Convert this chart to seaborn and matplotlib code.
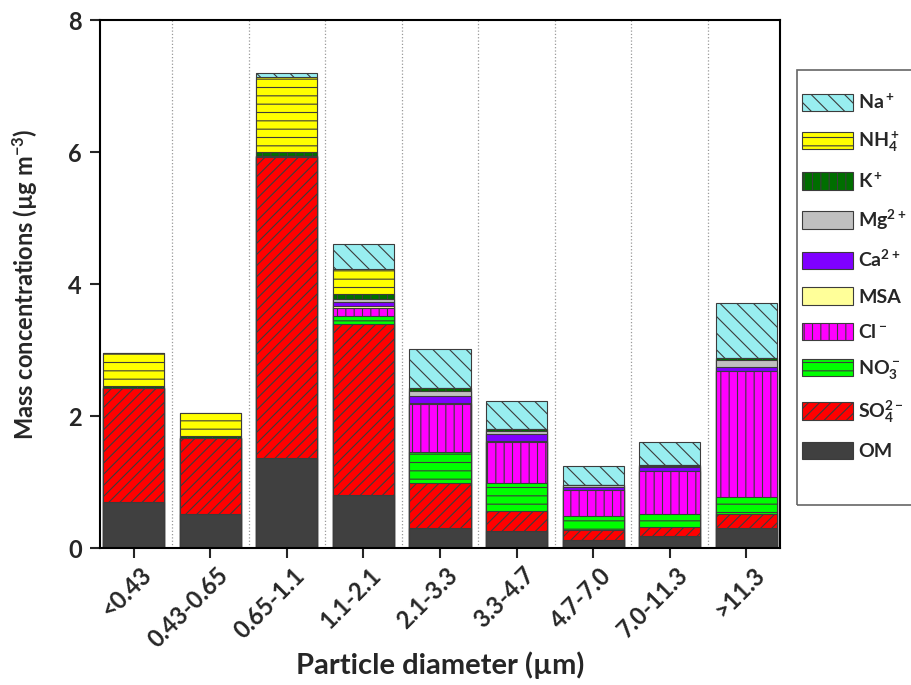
import numpy as np
import pandas as pd
import seaborn as sns
import matplotlib.pyplot as plt
import matplotlib.transforms as mtransforms
from matplotlib.patches import Patch, Rectangle

# particle size bins
sizes = ['<0.43', '0.43-0.65', '0.65-1.1', '1.1-2.1', '2.1-3.3',
         '3.3-4.7', '4.7-7.0', '7.0-11.3', '>11.3']

# mass concentrations (ug m-3), stacked from bottom to top
om = [0.70, 0.51, 1.37, 0.80, 0.31, 0.26, 0.12, 0.18, 0.31]
so4 = [1.72, 1.15, 4.55, 2.59, 0.67, 0.30, 0.15, 0.14, 0.21]
no3 = [0.01, 0.00, 0.02, 0.13, 0.48, 0.43, 0.21, 0.20, 0.26]
cl = [0.00, 0.00, 0.00, 0.12, 0.72, 0.62, 0.40, 0.64, 1.90]
msa = [0.00, 0.00, 0.00, 0.02, 0.02, 0.01, 0.00, 0.00, 0.00]
ca = [0.00, 0.00, 0.00, 0.06, 0.11, 0.10, 0.05, 0.06, 0.06]
mg = [0.00, 0.00, 0.00, 0.06, 0.07, 0.06, 0.02, 0.03, 0.11]
k = [0.03, 0.03, 0.06, 0.07, 0.04, 0.02, 0.01, 0.01, 0.03]
nh4 = [0.49, 0.35, 1.13, 0.37, 0.00, 0.00, 0.00, 0.00, 0.00]
na = [0.00, 0.00, 0.06, 0.39, 0.59, 0.43, 0.28, 0.34, 0.83]

species = ['OM', 'SO4', 'NO3', 'Cl', 'MSA', 'Ca', 'Mg', 'K', 'NH4', 'Na']
values = [om, so4, no3, cl, msa, ca, mg, k, nh4, na]
labels = ['OM', r'SO$_4^{2-}$', r'NO$_3^-$', r'Cl$^-$', 'MSA', r'Ca$^{2+}$',
          r'Mg$^{2+}$', r'K$^+$', r'NH$_4^+$', r'Na$^+$']
colors = ['#404040', '#ff0000', '#00ff00', '#ff00ff', '#ffff99', '#7f00ff',
          '#c0c0c0', '#006e00', '#ffff00', '#98eef0']
hatches = ['', '///', '--', '||', '', '', '', '||', '--', '\\\\']

sns.set_style('ticks')
plt.rcParams['font.family'] = ['Lato', 'DejaVu Sans']
plt.rcParams['font.weight'] = 'bold'
plt.rcParams['mathtext.fontset'] = 'custom'
plt.rcParams['mathtext.rm'] = 'Lato:bold'
plt.rcParams['mathtext.it'] = 'Lato:bold'
plt.rcParams['mathtext.bf'] = 'Lato:bold'
plt.rcParams['hatch.linewidth'] = 0.8

df = pd.DataFrame(dict(zip(species, values)), index=sizes)
df.index.name = 'size'
cum = df.cumsum(axis=1).reset_index()

fig = plt.figure(figsize=(9.11, 6.85), dpi=100)
ax = fig.add_axes([0.1098, 0.2, 0.7464, 0.7708])

# draw cumulative totals from the top layer down so each layer shows its own slice
for i in range(len(species) - 1, -1, -1):
    sns.barplot(data=cum, x='size', y=species[i], color=colors[i], hatch=hatches[i],
                edgecolor='#3c3c3c', linewidth=0.8, saturation=1, errorbar=None,
                width=0.8, ax=ax, zorder=2)

ax.set_xlim(-0.44, len(sizes) - 0.56)
ax.set_ylim(0, 8)
ax.set_yticks([0, 2, 4, 6, 8])
ax.set_xticks(np.arange(len(sizes) - 1) + 0.5, minor=True)
ax.grid(axis='x', which='minor', ls=':', color='#999999', lw=0.9, zorder=0)
ax.tick_params(which='minor', length=0)
ax.tick_params(which='major', direction='out', length=7, width=1.5, labelsize=17)
ax.tick_params(axis='y', pad=6)
ax.tick_params(axis='x', labelsize=17, pad=4)
shift = mtransforms.ScaledTranslation(0.06, 0, fig.dpi_scale_trans)
for t in ax.get_xticklabels():
    t.set_rotation(45)
    t.set_ha('right')
    t.set_va('top')
    t.set_rotation_mode('anchor')
    t.set_transform(t.get_transform() + shift)
for s in ax.spines.values():
    s.set_linewidth(1.5)
    s.set_color('black')

ax.set_xlabel('Particle diameter (µm)', fontsize=21, fontweight='bold', va='center')
ax.xaxis.set_label_coords(0.5, -0.222)
ax.set_ylabel(r'Mass concentrations (µg m$^{-3}$)', fontsize=17, fontweight='bold', labelpad=20)

# legend frame, running off the right edge like the original
fig.patches.append(Rectangle((797 / 911, 1 - 505 / 685), 0.2, 435 / 685,
                             transform=fig.transFigure, fill=False,
                             edgecolor='#666666', lw=1.2))
handles = [Patch(facecolor=colors[i], edgecolor='#3c3c3c', hatch=hatches[i], lw=0.8)
           for i in range(len(species) - 1, -1, -1)]
leg = fig.legend(handles, labels[::-1], loc='upper left',
                 bbox_to_anchor=(802 / 911, 1 - 93 / 685), frameon=False, fontsize=14,
                 handlelength=2.6, handleheight=1.0, labelspacing=0.88, borderpad=0,
                 borderaxespad=0, handletextpad=0.3)

fig.savefig('out.png', dpi=100)
